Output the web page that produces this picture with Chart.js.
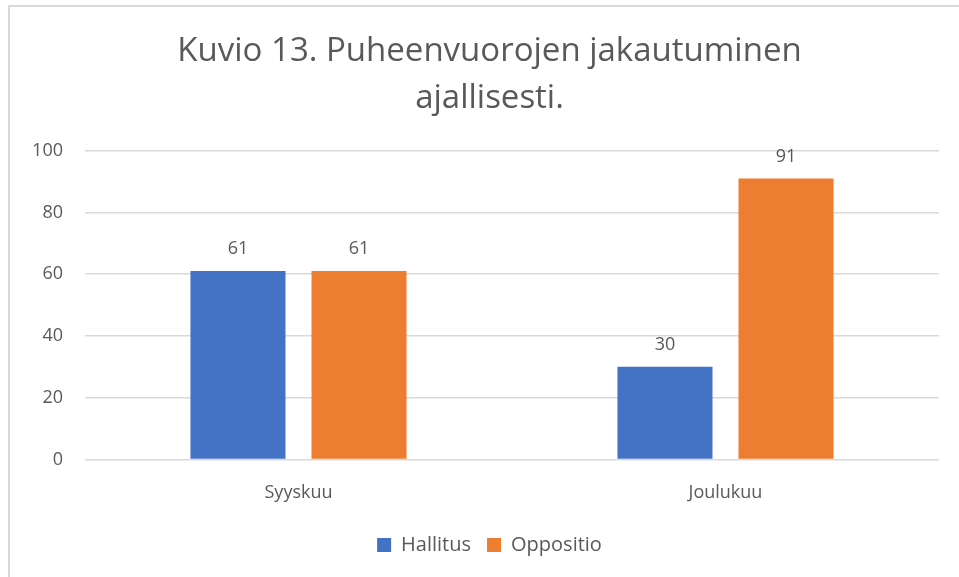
<!DOCTYPE html>
<html>
<head>
<meta charset="utf-8">
<script src="https://cdn.jsdelivr.net/npm/chart.js@4"></script>
<style>
    body { margin: 0; background: #fff; }
    #frame {
        position: absolute; left: 8px; top: 5px; width: 960px; height: 600px;
        border-left: 2px solid #d9d9d9; border-top: 2px solid #d9d9d9;
    }
    #wrap { position: absolute; left: 0; top: 0; width: 959px; height: 577px; }
</style>
</head>
<body>
<div id="frame"></div>
<div id="wrap"><canvas id="chart"></canvas></div>
<script>
const categories = ['Syyskuu', 'Joulukuu'];
const hallitus = [61, 30];
const oppositio = [61, 91];
const yTicks = [0, 20, 40, 60, 80, 100];

const textColor = '#595959';
const fontFamily = '"Open Sans", sans-serif';

// Draw value labels above each bar
const valueLabels = {
    id: 'valueLabels',
    afterDatasetsDraw(chart) {
        const ctx = chart.ctx;
        ctx.save();
        ctx.font = '18px ' + fontFamily;
        ctx.fillStyle = textColor;
        ctx.textAlign = 'center';
        ctx.textBaseline = 'bottom';
        chart.data.datasets.forEach((ds, i) => {
            chart.getDatasetMeta(i).data.forEach((bar, j) => {
                ctx.fillText(ds.data[j], bar.x, bar.y - 13);
            });
        });
        ctx.restore();
    }
};

// Title and legend sit a bit right of the canvas centre in the original
const shiftBlocks = {
    id: 'shiftBlocks',
    afterLayout(chart) {
        [chart.titleBlock, chart.legend].forEach(b => {
            b.left += 10;
            b.right += 10;
        });
    }
};

const ctx = document.getElementById('chart').getContext('2d');
new Chart(ctx, {
    type: 'bar',
    data: {
        labels: categories,
        datasets: [
            { label: 'Hallitus', data: hallitus, backgroundColor: '#4472C4' },
            { label: 'Oppositio', data: oppositio, backgroundColor: '#ED7D31' }
        ]
    },
    options: {
        responsive: true,
        maintainAspectRatio: false,
        animation: false,
        categoryPercentage: 0.567,
        barPercentage: 0.785,
        layout: { padding: { left: 20, right: 20, top: 28, bottom: 12 } },
        plugins: {
            title: {
                display: true,
                text: ['Kuvio 13. Puheenvuorojen jakautuminen', 'ajallisesti.'],
                color: textColor,
                font: { family: fontFamily, size: 33, weight: 'normal', lineHeight: 1.42 },
                padding: { top: 0, bottom: 29 }
            },
            legend: {
                position: 'bottom',
                labels: {
                    color: textColor,
                    font: { family: fontFamily, size: 20 },
                    boxWidth: 14,
                    boxHeight: 14,
                    padding: 16
                }
            },
            tooltip: { enabled: false }
        },
        scales: {
            x: {
                grid: { display: false },
                border: { display: false },
                ticks: { color: textColor, font: { family: fontFamily, size: 18 }, padding: 15 }
            },
            y: {
                min: 0,
                max: 100,
                afterBuildTicks: axis => { axis.ticks = yTicks.map(v => ({ value: v })); },
                afterFit: axis => { axis.width = 65; },
                grid: { color: '#d9d9d9', lineWidth: 1.5, drawTicks: false },
                border: { display: false },
                ticks: { color: textColor, font: { family: fontFamily, size: 18 }, padding: 22 }
            }
        }
    },
    plugins: [valueLabels, shiftBlocks]
});
</script>
</body>
</html>
